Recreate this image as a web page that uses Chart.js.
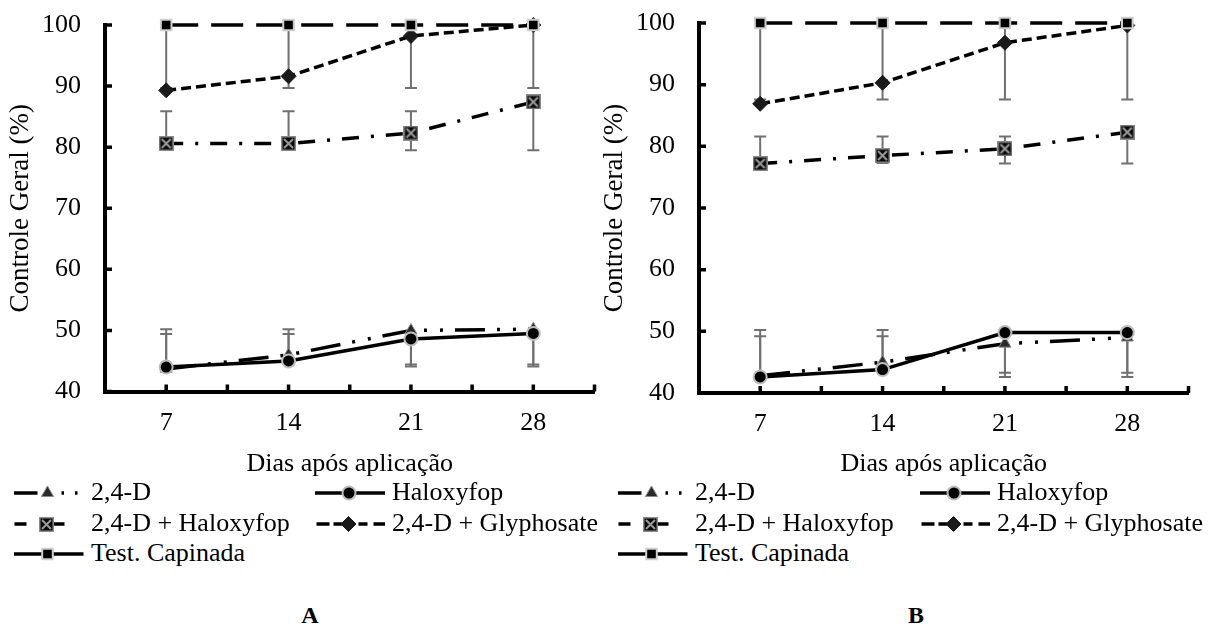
<!DOCTYPE html>
<html>
<head>
<meta charset="utf-8">
<script src="https://cdn.jsdelivr.net/npm/chart.js@4.4.1/dist/chart.umd.min.js"></script>
<style>
  html, body { margin: 0; padding: 0; background: #fff; }
  body { width: 1208px; height: 626px; overflow: hidden; position: relative; font-family: 'Liberation Serif', 'Times New Roman', serif; color: #000; }
  .wrap { position: absolute; top: 0; width: 604px; height: 480px; }
  #wrapA { left: 0; }
  #wrapB { left: 594px; }
  .legtxt { position: absolute; font-size: 26px; line-height: 30px; height: 30px; white-space: nowrap; }
  .legsym { position: absolute; }
  .panel { position: absolute; font-size: 24px; font-weight: bold; line-height: 30px; transform: translateX(-50%); }
</style>
</head>
<body>
<div class="wrap" id="wrapA"><canvas id="chartA" width="604" height="480"></canvas></div>
<div class="wrap" id="wrapB"><canvas id="chartB" width="604" height="480"></canvas></div>
<div id="legends"></div>
<div class="panel" style="left:310px; top:600px;">A</div>
<div class="panel" style="left:916px; top:600px;">B</div>
<script>
// ---------------- DATA ----------------
const days = ['7', '14', '21', '28'];
const yTickValues = [40, 50, 60, 70, 80, 90, 100];
const seriesNames = ['2,4-D', 'Haloxyfop', '2,4-D + Haloxyfop', '2,4-D + Glyphosate', 'Test. Capinada'];
const xTitle = 'Dias após aplicação';
const yTitle = 'Controle Geral (%)';

// Panel A values
const a24D     = [43.7, 46.0, 50.0, 50.2];
const aHalo    = [44.0, 45.0, 48.6, 49.5];
const a24DHalo = [80.6, 80.6, 82.3, 87.4];
const a24DGly  = [89.3, 91.6, 98.2, 100];
const aTest    = [100, 100, 100, 100];
// Panel A error bars (upward / downward lengths)
const a24DUp       = [6.5, 4.2, 0, 0];
const a24DDown     = [0, 0, 5.9, 6.1];
const aHaloUp      = [5.4, 4.4, 0, 0];
const aHaloDown    = [0, 0, 4.2, 5.1];
const a24DHaloUp   = [5.3, 5.3, 3.6, 0];
const a24DHaloDown = [0, 0, 2.8, 7.9];
const aTestDown    = [10.3, 10.3, 10.3, 10.3];

// Panel B values
const b24D     = [42.8, 45.0, 48.0, 49.0];
const bHalo    = [42.6, 43.8, 49.8, 49.8];
const b24DHalo = [77.2, 78.5, 79.6, 82.3];
const b24DGly  = [86.9, 90.3, 96.8, 99.6];
const bTest    = [100, 100, 100, 100];
// Panel B error bars
const b24DUp       = [7.4, 5.2, 0, 0];
const b24DDown     = [0, 0, 4.7, 5.7];
const bHaloUp      = [6.6, 5.4, 0, 0];
const bHaloDown    = [0, 0, 7.2, 7.2];
const b24DHaloUp   = [4.4, 3.1, 2.0, 0];
const b24DHaloDown = [0, 1.2, 2.4, 5.1];
const bTestDown    = [12.4, 12.4, 12.4, 12.4];

// ---------------- STYLES ----------------
function makeBoxX(size) {
  const c = document.createElement('canvas');
  c.width = size; c.height = size;
  const g = c.getContext('2d');
  g.fillStyle = '#8a8a8a'; g.fillRect(0, 0, size, size);
  g.fillStyle = '#0a0a0a'; g.fillRect(1.5, 1.5, size - 3, size - 3);
  g.strokeStyle = '#9a9a9a'; g.lineWidth = 2;
  g.beginPath();
  g.moveTo(3, 3); g.lineTo(size - 3, size - 3);
  g.moveTo(size - 3, 3); g.lineTo(3, size - 3);
  g.stroke();
  return c;
}
const boxX = makeBoxX(15);

const STYLE = {
  '2,4-D': { dash: [30, 12, 3, 13, 3, 12], point: 'triangle', r: 7, bg: '#2a2a2a', bc: '#8a8a8a', bw: 1, order: 4,
             leg: [[0, 23.5], [47.5, 50], [61, 63.5]], mx: 33.5 },
  'Haloxyfop': { dash: [], point: 'circle', r: 6.5, bg: '#000', bc: '#bdbdbd', bw: 2, order: 1,
             leg: [[0, 70]], mx: 34 },
  '2,4-D + Haloxyfop': { dash: [17, 12, 3, 12], point: boxX, r: 8, bg: '#000', bc: '#888', bw: 0, order: 2,
             leg: [[0.5, 12.5], [39, 50.5]], mx: 32 },
  '2,4-D + Glyphosate': { dash: [10, 5], point: 'rectRot', r: 7.5, bg: '#1a1a1a', bc: '#1a1a1a', bw: 1, order: 3,
             leg: [[1.5, 14.5], [18.5, 28], [43.5, 52.5], [58.5, 70]], mx: 33.5 },
  'Test. Capinada': { dash: [32, 13], point: 'rect', r: 7.5, bg: '#000', bc: '#cfcfcf', bw: 2, order: 0,
             leg: [[0, 69.5]], mx: 33.5 }
};

const FAMILY = "'Liberation Serif', 'Times New Roman', serif";
Chart.defaults.font.family = FAMILY;
Chart.defaults.color = '#000';

// ---------------- PLUGINS ----------------
const errorBars = {
  id: 'errorBars',
  beforeDatasetsDraw(chart) {
    const { ctx, scales: { x, y } } = chart;
    ctx.save();
    ctx.strokeStyle = '#707070';
    ctx.lineWidth = 2;
    chart.data.datasets.forEach(ds => {
      const up = ds.errUp || [], dn = ds.errDown || [];
      ds.data.forEach((v, i) => {
        const px = x.getPixelForValue(i);
        [[up[i], 1], [dn[i], -1]].forEach(([e, s]) => {
          if (!e) return;
          const y0 = y.getPixelForValue(v);
          const y1 = y.getPixelForValue(v + s * e);
          ctx.beginPath();
          ctx.moveTo(px, y0); ctx.lineTo(px, y1);
          ctx.moveTo(px - 6, y1); ctx.lineTo(px + 6, y1);
          ctx.stroke();
        });
      });
    });
    ctx.restore();
  }
};

const inwardTicks = {
  id: 'inwardTicks',
  afterDraw(chart) {
    const { ctx, chartArea: ca, scales: { x, y } } = chart;
    ctx.save();
    ctx.strokeStyle = '#000';
    ctx.lineWidth = 3.5;
    ctx.beginPath();
    const n = x.ticks.length;
    const half = (x.getPixelForValue(1) - x.getPixelForValue(0)) / 2;
    for (let i = 0; i < n; i++) {
      const c = x.getPixelForValue(i);
      [c, c + half].forEach(px => { ctx.moveTo(px, ca.bottom); ctx.lineTo(px, ca.bottom - 7); });
    }
    y.ticks.forEach(t => {
      const py = y.getPixelForValue(t.value);
      ctx.moveTo(ca.left, py); ctx.lineTo(ca.left + 7, py);
    });
    ctx.stroke();
    ctx.restore();
  }
};

// ---------------- CHART BUILDER ----------------
function makeDataset(name, values, up, down) {
  const s = STYLE[name];
  return {
    label: name,
    data: values,
    errUp: up,
    errDown: down,
    borderColor: '#000',
    borderWidth: 3.5,
    borderDash: s.dash,
    borderCapStyle: 'butt',
    tension: 0,
    fill: false,
    pointStyle: s.point,
    pointRadius: s.r,
    pointHoverRadius: s.r,
    pointBackgroundColor: s.bg,
    pointBorderColor: s.bc,
    pointBorderWidth: s.bw,
    order: s.order,
    clip: false
  };
}

function makeChart(id, datasets, padTop, axisBottom, padRight) {
  const H = 480;
  return new Chart(document.getElementById(id), {
    type: 'line',
    data: { labels: days, datasets },
    options: {
      responsive: false,
      animation: false,
      events: [],
      layout: { padding: { top: padTop, right: padRight, bottom: 0, left: 0 } },
      plugins: { legend: { display: false }, tooltip: { enabled: false } },
      scales: {
        x: {
          type: 'category',
          offset: true,
          grid: { display: true, drawOnChartArea: false, drawTicks: false, color: 'rgba(0,0,0,0)' },
          border: { display: true, color: '#000', width: 4 },
          ticks: { padding: 16, font: { size: 26, family: FAMILY }, color: '#000' },
          title: { display: true, text: xTitle, font: { size: 26, family: FAMILY }, color: '#000', padding: { top: 0, bottom: 0 } },
          afterFit(scale) { scale.height = H - axisBottom; }
        },
        y: {
          min: 40, max: 100,
          afterBuildTicks(scale) { scale.ticks = yTickValues.map(v => ({ value: v })); },
          grid: { display: true, drawOnChartArea: false, drawTicks: false, color: 'rgba(0,0,0,0)' },
          border: { display: true, color: '#000', width: 4 },
          ticks: { padding: 24, font: { size: 26, family: FAMILY }, color: '#000' },
          title: { display: true, text: yTitle, font: { size: 27, family: FAMILY }, color: '#000', padding: { top: 5, bottom: 0 } },
          afterFit(scale) { scale.width = 105; scale.paddingTop = 0; scale.paddingBottom = 0; }
        }
      }
    },
    plugins: [errorBars, inwardTicks]
  });
}

function buildCharts() {
  makeChart('chartA', [
    makeDataset('2,4-D', a24D, a24DUp, a24DDown),
    makeDataset('Haloxyfop', aHalo, aHaloUp, aHaloDown),
    makeDataset('2,4-D + Haloxyfop', a24DHalo, a24DHaloUp, a24DHaloDown),
    makeDataset('2,4-D + Glyphosate', a24DGly, [], []),
    makeDataset('Test. Capinada', aTest, [], aTestDown)
  ], 25, 391.5, 1);

  makeChart('chartB', [
    makeDataset('2,4-D', b24D, b24DUp, b24DDown),
    makeDataset('Haloxyfop', bHalo, bHaloUp, bHaloDown),
    makeDataset('2,4-D + Haloxyfop', b24DHalo, b24DHaloUp, b24DHaloDown),
    makeDataset('2,4-D + Glyphosate', b24DGly, [], []),
    makeDataset('Test. Capinada', bTest, [], bTestDown)
  ], 23, 393, 5);
}

// ---------------- HTML LEGENDS ----------------
function drawMarker(g, s, x, y) {
  g.save();
  if (s.point === boxX) {
    g.drawImage(boxX, Math.round(x - boxX.width / 2), Math.round(y - boxX.height / 2));
  } else {
    g.fillStyle = s.bg; g.strokeStyle = s.bc; g.lineWidth = s.bw;
    g.beginPath();
    const r = s.r;
    if (s.point === 'circle') { g.arc(x, y, r, 0, Math.PI * 2); }
    else if (s.point === 'rect') { const h = r * Math.SQRT1_2; g.rect(x - h, y - h, 2 * h, 2 * h); }
    else if (s.point === 'rectRot') { g.moveTo(x, y - r); g.lineTo(x + r, y); g.lineTo(x, y + r); g.lineTo(x - r, y); g.closePath(); }
    else if (s.point === 'triangle') {
      g.moveTo(x, y - r); g.lineTo(x + r * 0.866, y + r * 0.5); g.lineTo(x - r * 0.866, y + r * 0.5); g.closePath();
    }
    g.fill();
    if (s.bw) g.stroke();
  }
  g.restore();
}

function buildLegends() {
  const legendLayouts = [
    { cols: [{ sym: 14, txt: 91 }, { sym: 315, txt: 392 }] },
    { cols: [{ sym: 618, txt: 695 }, { sym: 920, txt: 997 }] }
  ];
  const rowCenters = [493, 524, 554];
  const legRoot = document.getElementById('legends');
  legendLayouts.forEach(L => {
    seriesNames.forEach((name, idx) => {
      const row = Math.floor(idx / 2), col = idx % 2;
      const cy = rowCenters[row];
      const c = L.cols[col];
      const s = STYLE[name];
      const cv = document.createElement('canvas');
      cv.width = 76; cv.height = 22;
      cv.className = 'legsym';
      cv.style.left = (c.sym - 2) + 'px';
      cv.style.top = (cy - 11) + 'px';
      legRoot.appendChild(cv);
      const g = cv.getContext('2d');
      g.strokeStyle = '#000'; g.lineWidth = 3.5; g.lineCap = 'butt';
      g.beginPath();
      s.leg.forEach(([a, b]) => { g.moveTo(a + 2, 11); g.lineTo(b + 2, 11); });
      g.stroke();
      drawMarker(g, s, s.mx + 2, 11);
      const t = document.createElement('div');
      t.className = 'legtxt';
      t.style.left = c.txt + 'px';
      t.style.top = (cy - 16) + 'px';
      t.textContent = name;
      legRoot.appendChild(t);
    });
  });
}

buildLegends();
let built = false;
function go() { if (built) return; built = true; buildCharts(); }
if (document.fonts && document.fonts.load) {
  Promise.all([
    document.fonts.load("26px 'Liberation Serif'"),
    document.fonts.load("bold 24px 'Liberation Serif'")
  ]).then(go, go);
  setTimeout(go, 400);
} else {
  go();
}
</script>
</body>
</html>
